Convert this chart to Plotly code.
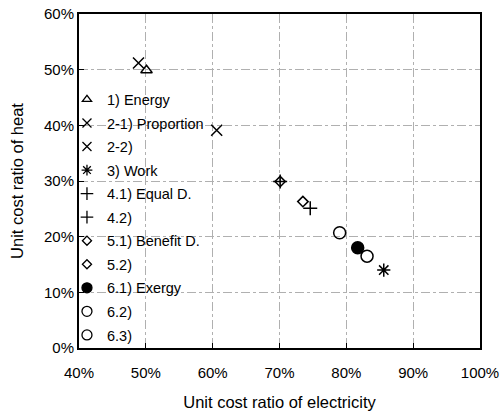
import plotly.graph_objects as go

names = ["1) Energy", "2-1) Proportion", "2-2)", "3) Work", "4.1) Equal D.", "4.2)",
         "5.1) Benefit D.", "5.2)", "6.1) Exergy", "6.2)", "6.3)"]
elec = [0.501, 0.489, 0.606, 0.856, 0.701, 0.746, 0.701, 0.735, 0.817, 0.790, 0.831]
heat = [0.499, 0.512, 0.391, 0.140, 0.299, 0.251, 0.299, 0.263, 0.180, 0.207, 0.165]
symbols = ["triangle-up-open", "x-thin-open", "x-thin-open", "asterisk-open", "cross-thin-open",
           "cross-thin-open", "diamond-open", "diamond-open", "circle", "circle-open", "circle-open"]
sizes = [10, 11, 11, 11, 10, 10, 8, 8, 12, 12, 12]
legend_sizes = [8, 9, 9, 9, 9, 9, 7, 7, 10, 10, 10]

x_ticks = [0.4, 0.5, 0.6, 0.7, 0.8, 0.9, 1.0]
x_labels = ["40%", "50%", "60%", "70%", "80%", "90%", "100%"]
y_ticks = [0.0, 0.1, 0.2, 0.3, 0.4, 0.5, 0.6]
y_labels = ["0%", "10%", "20%", "30%", "40%", "50%", "60%"]

fig = go.Figure()
for i, n in enumerate(names):
    # plotted mark
    fig.add_trace(go.Scatter(
        x=[elec[i]], y=[heat[i]], mode="markers", name=n, legendgroup=n, showlegend=False,
        marker=dict(symbol=symbols[i], size=sizes[i], color="black",
                    line=dict(color="black", width=1.5)),
    ))
    # legend entry (smaller glyph, like the original)
    fig.add_trace(go.Scatter(
        x=[None], y=[None], mode="markers", name=n, legendgroup=n, showlegend=True,
        marker=dict(symbol=symbols[i], size=legend_sizes[i], color="black",
                    line=dict(color="black", width=1.3)),
    ))

axis_common = dict(
    showline=True, linecolor="black", linewidth=2, mirror=True,
    ticks="inside", ticklen=5, tickcolor="black",
    showgrid=True, gridcolor="#b0b0b0", griddash="dashdot", gridwidth=1,
    zeroline=False, automargin=False, ticklabeloverflow="allow",
    tickfont=dict(size=15, color="black", family="Liberation Sans, Arial"),
)
fig.update_layout(
    width=500, height=413,
    margin=dict(l=79, r=20, t=14, b=65),
    plot_bgcolor="white", paper_bgcolor="white",
    font=dict(family="Liberation Sans, Arial", size=15, color="black"),
    xaxis=dict(range=[0.4, 1.0], tickvals=x_ticks, ticktext=x_labels, ticklabelstandoff=10,
               title=dict(text="Unit cost ratio of electricity", font=dict(size=16.5), standoff=16),
               **axis_common),
    yaxis=dict(range=[0.0, 0.6], tickvals=y_ticks, ticktext=y_labels,
               title=dict(text="Unit cost ratio of heat", font=dict(size=16.5), standoff=16),
               **axis_common),
    legend=dict(x=-0.03, y=0.792, xanchor="left", yanchor="top", bgcolor="rgba(0,0,0,0)",
                font=dict(size=14.5), tracegroupgap=1.7, itemwidth=30),
    showlegend=True,
)
fig.write_html("out.html", config={"displayModeBar": False},
               post_script="document.body.style.margin='0';document.body.style.overflow='hidden';")
